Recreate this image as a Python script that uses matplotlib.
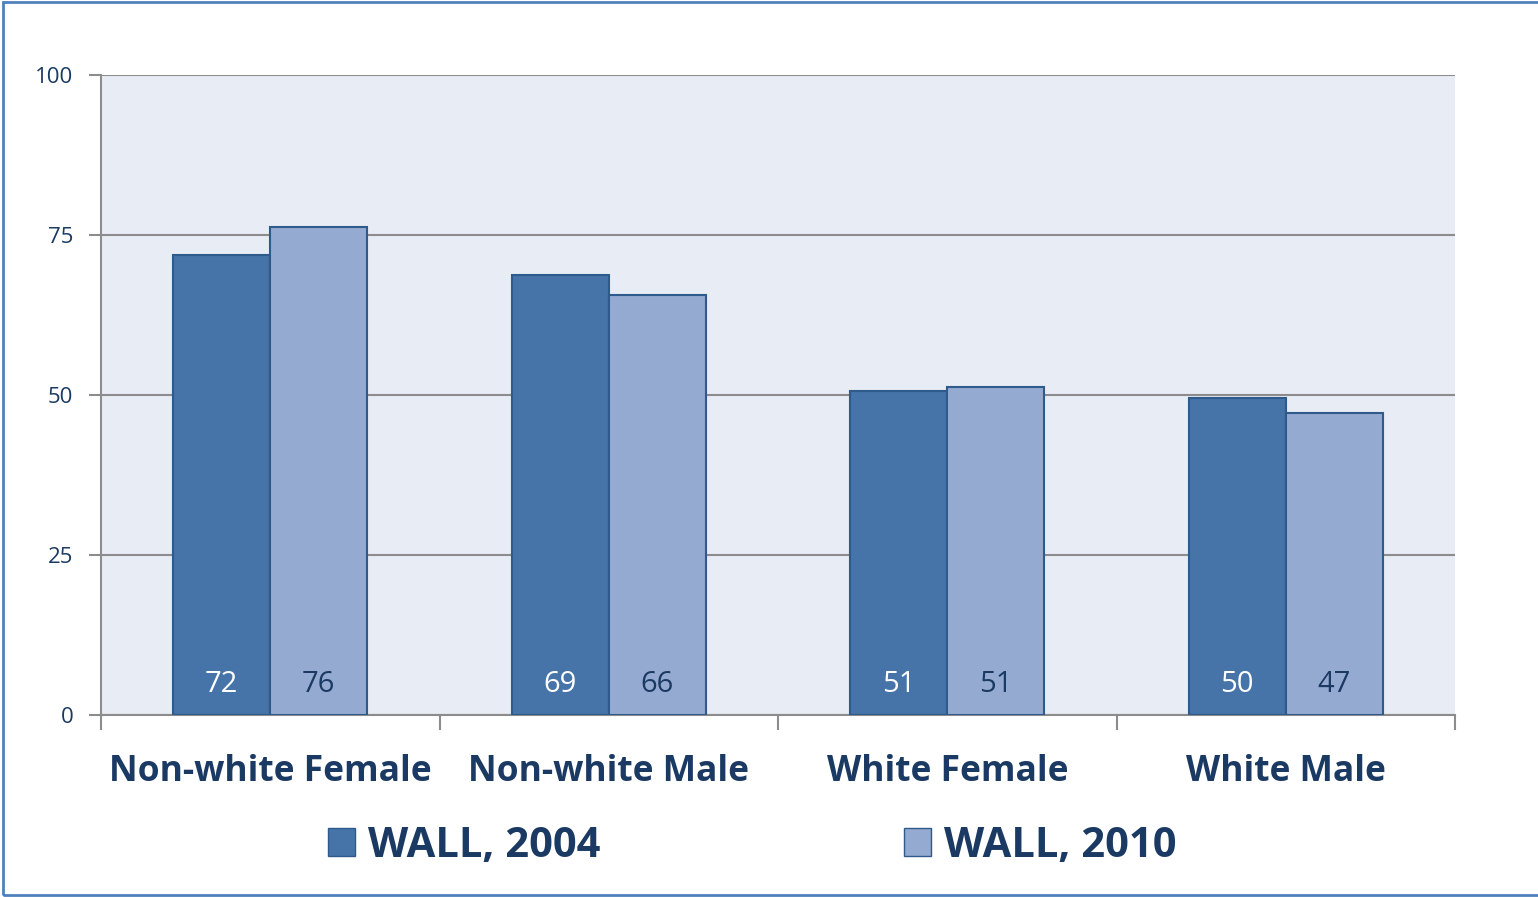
import matplotlib
matplotlib.use("Agg")
import matplotlib.pyplot as plt
import numpy as np
from matplotlib.patches import Rectangle, Patch

plt.rcParams['font.family'] = ['Open Sans', 'DejaVu Sans']

categories = ['Non-white Female', 'Non-white Male', 'White Female', 'White Male']
wall_2004 = [71.9, 68.8, 50.6, 49.6]
wall_2010 = [76.3, 65.6, 51.3, 47.2]
series_names = ['WALL, 2004', 'WALL, 2010']
yticks = [0, 25, 50, 75, 100]

navy = '#1B3A63'
dark = '#4674A8'
light = '#95AAD0'
edge = '#2E5A8C'

fig = plt.figure(figsize=(15.38, 8.97), dpi=100)
ax = fig.add_axes([101/1538, 1-715/897, (1455-101)/1538, (715-75)/897])
ax.set_facecolor('#E8ECF4')

x = np.arange(len(categories)) + 0.5
w = 0.2866
b1 = ax.bar(x - w/2, wall_2004, w, color=dark, edgecolor=edge, linewidth=1.5, zorder=3)
b2 = ax.bar(x + w/2, wall_2010, w, color=light, edgecolor=edge, linewidth=1.5, zorder=3)

for bars, vals, tc in [(b1, wall_2004, 'white'), (b2, wall_2010, navy)]:
    for r, v in zip(bars, vals):
        ax.text(r.get_x() + r.get_width()/2, 4.8, '%d' % round(v), ha='center', va='center',
                fontsize=21, color=tc, zorder=4)

ax.set_xlim(0, len(categories))
ax.set_ylim(0, 100)
ax.set_yticks(yticks)
ax.set_yticklabels([str(t) for t in yticks], fontsize=16, color=navy)
ax.yaxis.grid(True, color='#8C8C8C', linewidth=1.5, zorder=1)
ax.set_axisbelow(True)
ax.tick_params(axis='y', length=9, width=1.5, color='#8C8C8C', pad=11)

ax.set_xticks(np.arange(len(categories) + 1))
ax.set_xticklabels([])
ax.tick_params(axis='x', length=11, width=1.5, color='#8C8C8C', direction='out')
for xi, c in zip(x, categories):
    ax.text(xi, -8.9, c, ha='center', va='center', fontsize=25.5, fontweight='bold', color=navy)

for s in ['top', 'right']:
    ax.spines[s].set_visible(False)
for s in ['left', 'bottom']:
    ax.spines[s].set_color('#8C8C8C')
    ax.spines[s].set_linewidth(1.5)

handles = [Patch(facecolor=dark, edgecolor=edge), Patch(facecolor=light, edgecolor=edge)]
leg = fig.legend(handles, series_names, loc='center', bbox_to_anchor=(0.489, 1-846/897), ncol=2,
                 frameon=False, prop={'size': 30, 'weight': 'bold'}, handlelength=0.65,
                 handleheight=0.65, handletextpad=0.3, columnspacing=7.3)
for t in leg.get_texts():
    t.set_color(navy)

fig.patches.append(Rectangle((3/1538, 2/897), 1540/1538, 893/897, transform=fig.transFigure,
                             fill=False, edgecolor='#4F81BD', linewidth=2))

fig.savefig('out.png', dpi=100)
